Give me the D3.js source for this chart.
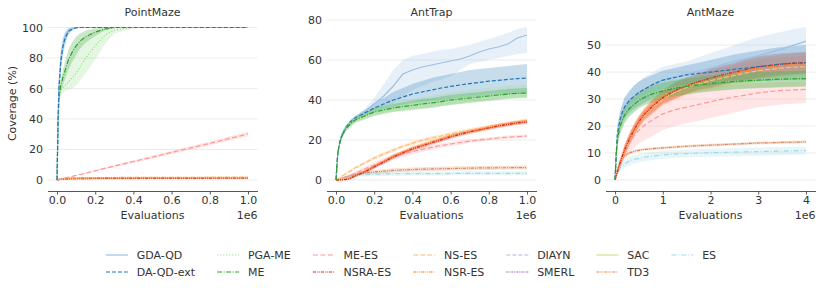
<!DOCTYPE html>
<html>
<head>
<meta charset="utf-8">
<script src="https://cdn.jsdelivr.net/npm/d3@7"></script>
<style>
body { margin: 0; background: #fff; }
text { font-family: "DejaVu Sans", sans-serif; fill: #333; }
</style>
</head>
<body>
<script>
// methods, in legend order
var methods = ["GDA-QD", "DA-QD-ext", "PGA-ME", "ME", "ME-ES", "NSRA-ES", "NS-ES", "NSR-ES", "DIAYN", "SMERL", "SAC", "TD3", "ES"];
var methodColors = ["#9fbfe3", "#1f77b4", "#98df8a", "#2ca02c", "#ff9896", "#d62728", "#ffbb78", "#ff7f0e", "#c5b0d5", "#9467bd", "#dbdb8d", "#e0844f", "#9edae5"];
var methodDashes = ["none", "4,2", "1.2,1.8", "5,1.5,1,1.5", "5,2.5", "3,1,1,1,1,1", "5,2", "3,1,1,1,1,1", "4,2", "2,1,1,1", "none", "3,1,1,1,1,1", "5,2,1,2"];

// ---- PointMaze (x in 1e6 evaluations) ----
var pmX = [0, 0.005, 0.01, 0.02, 0.03, 0.04, 0.05, 0.06, 0.08, 0.1, 0.12, 0.15, 0.2, 0.25, 0.3, 0.4, 0.5, 0.6, 0.7, 0.8, 0.9, 1.0];
var pmGda = [0, 40, 62, 80, 88, 93, 96, 98, 99.5, 100, 100, 100, 100, 100, 100, 100, 100, 100, 100, 100, 100, 100];
var pmGdaLo = [0, 34, 55, 73, 82, 88, 92, 95.5, 98.5, 99.6, 100, 100, 100, 100, 100, 100, 100, 100, 100, 100, 100, 100];
var pmGdaHi = [0, 46, 69, 86, 93, 96.5, 98.5, 99.5, 100, 100, 100, 100, 100, 100, 100, 100, 100, 100, 100, 100, 100, 100];
var pmDaqd = [0, 38, 60, 78, 87, 92, 95, 97.5, 99, 99.8, 100, 100, 100, 100, 100, 100, 100, 100, 100, 100, 100, 100];
var pmDaqdSpread = [0, 5, 6, 6, 5, 4, 3, 2, 1, 0.3, 0, 0, 0, 0, 0, 0, 0, 0, 0, 0, 0, 0];
var pmPga = [0, 32, 52, 58, 60.5, 62, 63, 64.5, 67, 70, 74, 80, 88, 95, 98.5, 100, 100, 100, 100, 100, 100, 100];
var pmPgaLo = [0, 28, 48, 55, 57, 58, 58.5, 59, 60, 62, 65, 70, 79, 89, 96, 99.5, 100, 100, 100, 100, 100, 100];
var pmPgaHi = [0, 36, 56, 62, 66, 70, 74, 78, 84, 88.5, 91, 94, 97, 99.5, 100, 100, 100, 100, 100, 100, 100, 100];
var pmMe = [0, 35, 55, 62, 67, 71, 75, 79, 84, 88, 91, 94, 97, 99, 100, 100, 100, 100, 100, 100, 100, 100];
var pmMeSpread = [0, 4, 4, 4, 5, 5.5, 6, 6.5, 6.5, 6, 5, 4, 2.5, 1, 0.3, 0, 0, 0, 0, 0, 0, 0];
var pmMees = [0, 0.2, 0.3, 0.6, 0.9, 1.2, 1.5, 1.8, 2.4, 3, 3.6, 4.5, 6, 7.6, 9.1, 12.1, 15, 18.1, 21, 24, 27.1, 30.2];
var pmMeesSpread = [0, 0, 0, 0.1, 0.1, 0.1, 0.2, 0.2, 0.2, 0.3, 0.3, 0.4, 0.5, 0.6, 0.7, 0.9, 1, 1.1, 1.2, 1.3, 1.4, 1.5];
var pmNsraes = [0, 0.1, 0.2, 0.4, 0.5, 0.6, 0.7, 0.7, 0.8, 0.8, 0.9, 0.9, 1, 1, 1, 1, 1.1, 1.1, 1.1, 1.1, 1.2, 1.2];
var pmNses = [0, 0.3, 0.5, 0.8, 1, 1.1, 1.2, 1.3, 1.4, 1.4, 1.5, 1.5, 1.6, 1.6, 1.6, 1.7, 1.7, 1.7, 1.7, 1.8, 1.8, 1.8];
var pmNsres = [0, 0.2, 0.4, 0.6, 0.8, 0.9, 1, 1, 1.1, 1.1, 1.2, 1.2, 1.2, 1.3, 1.3, 1.3, 1.3, 1.4, 1.4, 1.4, 1.4, 1.4];
var pmLowSpread = [0, 0.1, 0.2, 0.3, 0.4, 0.4, 0.5, 0.5, 0.5, 0.5, 0.5, 0.5, 0.5, 0.5, 0.5, 0.5, 0.5, 0.5, 0.5, 0.5, 0.5, 0.5];

// ---- AntTrap ----
var atX = [0, 0.005, 0.01, 0.02, 0.03, 0.05, 0.075, 0.1, 0.15, 0.2, 0.25, 0.3, 0.35, 0.4, 0.45, 0.5, 0.55, 0.6, 0.65, 0.7, 0.75, 0.8, 0.85, 0.9, 0.95, 1.0];
var atGda = [0, 8, 14, 19, 22, 26, 29, 31, 34, 38, 42, 47, 53, 55, 56.5, 57.5, 58.5, 59.5, 60.5, 62, 64, 65.5, 66.5, 68, 71, 72.5];
var atGdaLo = [0, 7, 13, 18, 21, 25, 28, 30, 32.5, 35, 37, 38, 42, 45, 47, 49, 50, 52, 55, 58, 59, 60, 61, 62, 63, 63.5];
var atGdaHi = [0, 9, 15, 20, 23, 27, 30, 32, 35.5, 41, 48, 55, 60, 62, 63, 64, 65, 65.5, 66.5, 67.5, 69, 70.5, 72, 73.5, 75.5, 76.5];
var atDaqd = [0, 8, 14, 19, 22, 26, 29, 31, 33.5, 36, 38, 40, 41.5, 43, 44, 45, 46, 46.8, 47.5, 48.2, 48.8, 49.4, 49.8, 50.3, 50.7, 51];
var atDaqdLo = [0, 7, 13, 18, 21, 25, 28, 30, 32, 34, 35.5, 36.5, 37.5, 38.5, 39, 39.5, 40, 40.5, 41, 41.5, 42, 42.5, 42.8, 43, 43.2, 43.5];
var atDaqdHi = [0, 9, 15, 20, 23, 27, 30, 32, 35, 38.5, 41, 44, 46, 48, 49.5, 51, 52, 53, 54, 55, 55.5, 56, 56.5, 57, 57.5, 58];
var atPga = [0, 8, 14, 19, 22.5, 26, 28.5, 30.5, 32.5, 34.5, 35.5, 36.5, 37.3, 38, 38.7, 39.3, 40, 40.7, 41.3, 42, 42.5, 43, 43.5, 44, 44.3, 44.6];
var atPgaSpread = [0, 1, 1, 1.5, 1.5, 1.5, 1.5, 1.5, 1.8, 2, 2, 2.2, 2.4, 2.5, 2.7, 2.8, 2.9, 3, 3, 3, 3, 3, 3, 3, 3, 3];
var atMe = [0, 8, 14, 19, 22, 25.5, 28, 30, 32, 34, 35, 36, 36.7, 37.3, 38, 38.5, 39.2, 40, 40.5, 41, 41.5, 42, 42.5, 43, 43.3, 43.5];
var atMeSpread = [0, 1, 1, 1.5, 1.5, 1.5, 1.5, 1.5, 1.8, 2, 2, 2, 2.2, 2.3, 2.5, 2.5, 2.5, 2.5, 2.5, 2.5, 2.5, 2.5, 2.5, 2.5, 2.5, 2.5];
var atMees = [0, 0, 0.1, 0.3, 0.6, 1.2, 2.2, 3.3, 5.5, 7.5, 9.5, 11.5, 13, 14.2, 15.3, 16.3, 17.2, 18, 18.7, 19.4, 20, 20.5, 21, 21.4, 21.7, 22];
var atMeesSpread = [0, 0, 0.1, 0.2, 0.3, 0.5, 0.7, 0.9, 1.2, 1.4, 1.5, 1.5, 1.5, 1.4, 1.3, 1.2, 1.1, 1, 1, 0.9, 0.9, 0.8, 0.8, 0.8, 0.8, 0.8];
var atNsraes = [0, 0, 0, 0, 0, 0.2, 0.8, 2, 4, 6.5, 9, 11.5, 13.5, 15.5, 17, 18.5, 20, 21.5, 22.8, 24, 25, 26, 27, 27.8, 28.5, 29];
var atNses = [0, 0.2, 0.5, 1, 1.8, 3, 4.5, 6, 8.5, 11, 13, 15, 16.8, 18.4, 19.8, 21, 22, 23, 24, 25, 25.8, 26.6, 27.4, 28.2, 29, 29.8];
var atNsres = [0, 0, 0, 0, 0, 0.3, 1, 2.2, 4.2, 6.8, 9.2, 11.8, 14, 16, 17.5, 19, 20.5, 22, 23.2, 24.3, 25.3, 26.3, 27.2, 28, 28.8, 29.5];
var atEsSpread = [0, 0, 0.2, 0.3, 0.4, 0.5, 0.6, 0.7, 0.8, 0.9, 1, 1, 1, 1, 1, 1, 1, 1, 1, 1, 1, 1, 1, 1, 1, 1];
var atTd3 = [0, 0, 0.2, 0.5, 1, 1.5, 2.2, 2.8, 3.5, 4, 4.4, 4.8, 5, 5.2, 5.4, 5.5, 5.6, 5.7, 5.8, 5.9, 6, 6, 6.1, 6.1, 6.2, 6.2];
var atEs = [0, 0, 0.2, 0.5, 0.8, 1.2, 1.7, 2.2, 2.6, 2.9, 3, 3.1, 3.1, 3.2, 3.2, 3.2, 3.2, 3.2, 3.3, 3.3, 3.3, 3.3, 3.3, 3.3, 3.3, 3.3];

// ---- AntMaze ----
var amX = [0, 0.025, 0.05, 0.1, 0.15, 0.2, 0.3, 0.4, 0.5, 0.6, 0.8, 1.0, 1.25, 1.5, 1.75, 2.0, 2.25, 2.5, 2.75, 3.0, 3.25, 3.5, 3.75, 4.0];
var amGda = [0, 10, 17, 22, 25, 27, 29.5, 31, 32.5, 33.5, 35.5, 37, 38.2, 39.2, 40.3, 41.5, 42.8, 44, 45, 46, 47.3, 48.6, 50, 51.5];
var amGdaLo = [0, 8, 14, 19, 22, 24, 26, 27.5, 29, 30, 32, 33.5, 34.5, 35.5, 36.5, 37.5, 38.5, 39.5, 40.5, 41.5, 42.5, 43.5, 44.5, 45.5];
var amGdaHi = [0, 12, 20, 25, 28, 30.5, 33, 35, 36.5, 38, 40, 42, 43, 44, 45.5, 47, 48.5, 50, 51.5, 53, 54, 55, 56, 56.7];
var amDaqd = [0, 10, 17, 22, 25, 27, 29.5, 31, 32.5, 33.5, 35.5, 37, 38, 39, 39.5, 40, 40.5, 41, 41.5, 42, 42.5, 43, 43.3, 43.5];
var amDaqdLo = [0, 8, 14, 18.5, 21, 23, 25, 26.5, 27.5, 28.5, 30.5, 32, 33, 34, 34.5, 35, 35.5, 36, 36.3, 36.6, 36.8, 37, 37, 37];
var amDaqdHi = [0, 12, 20, 25, 28, 30.5, 33, 35, 36.5, 37.5, 39, 40.5, 41.5, 42.5, 43.5, 44.5, 45.5, 46.5, 47.3, 48, 48.7, 49.3, 49.7, 50];
var amPga = [0, 9, 15.5, 20, 22.5, 24.5, 27, 28.5, 30, 31, 32.5, 33.5, 34.3, 35, 35.6, 36, 36.4, 36.7, 37, 37.2, 37.4, 37.6, 37.8, 38];
var amMe = [0, 9, 15, 19.5, 22, 24, 26.5, 28, 29.5, 30.5, 32, 33, 34, 34.7, 35.3, 35.8, 36.2, 36.5, 36.8, 37, 37.2, 37.4, 37.5, 37.6];
var amMeSpread = [0, 2, 3, 3, 3, 3, 3, 3, 3, 3, 3, 3, 3, 3, 3, 3, 3, 3, 3, 3, 3, 3, 3, 3];
var amMees = [0, 1.5, 3, 5.5, 8, 10, 13.5, 16.5, 18.5, 20, 22.5, 24.5, 26, 27, 28, 29, 30, 30.8, 31.5, 32.3, 32.8, 33.2, 33.4, 33.6];
var amMeesLo = [0, 1, 2, 4, 6, 7.5, 10, 12, 13.5, 14.5, 16.5, 18.5, 20, 21, 22, 23, 24, 25, 26, 27, 27.5, 28, 28.3, 28.5];
var amMeesHi = [0, 2, 4, 7, 10, 12.5, 17, 21, 23.5, 25.5, 28.5, 31, 32.5, 33.5, 34, 34.5, 35, 35.3, 35.6, 36, 36.2, 36.4, 36.5, 36.5];
var amNsraes = [0, 1.5, 3, 6, 8.5, 11, 15, 18.5, 21.5, 24, 27.5, 30.5, 33, 35, 36.5, 37.8, 39, 40, 41, 42, 42.5, 43, 43.3, 43.5];
var amNses = [0, 1.5, 2.8, 5.5, 8, 10.5, 14.5, 18, 21, 23.5, 27, 30, 32.5, 34.3, 35.6, 36.8, 37.8, 38.8, 39.7, 40.5, 41, 41.5, 41.8, 42];
var amNsres = [0, 1.5, 3, 6, 8.8, 11.3, 15.5, 19, 22, 24.5, 28, 31, 33.3, 35, 36.3, 37.5, 38.5, 39.5, 40.5, 41.5, 42, 42.5, 43, 43.2];
var amNsSpread = [0, 0.5, 1, 1.5, 1.5, 2, 2, 2, 2, 2, 2.5, 2.5, 3, 3, 3, 3.5, 3.5, 3.5, 4, 4, 4, 4, 4, 4];
var amTd3 = [0, 2, 4, 6.5, 8, 9, 10, 10.7, 11, 11.3, 11.6, 11.9, 12.2, 12.5, 12.7, 12.9, 13.1, 13.3, 13.5, 13.7, 13.8, 13.9, 14, 14.1];
var amTd3Spread = [0, 0.3, 0.5, 0.5, 0.5, 0.5, 0.5, 0.5, 0.5, 0.5, 0.5, 0.5, 0.5, 0.5, 0.5, 0.5, 0.5, 0.5, 0.5, 0.5, 0.5, 0.5, 0.5, 0.5];
var amEs = [0, 1.5, 3, 4.5, 5.5, 6, 7, 7.6, 8, 8.4, 8.9, 9.3, 9.6, 9.8, 10, 10.1, 10.2, 10.3, 10.4, 10.5, 10.6, 10.7, 10.8, 10.9];
var amEsSpread = [0, 0.5, 1, 1.5, 1.5, 1.5, 1.5, 1.5, 1.5, 1.5, 1.5, 1.5, 1.5, 1.5, 1.5, 1.5, 1.5, 1.5, 1.5, 1.5, 1.5, 1.5, 1.5, 1.5];

var pmTicks = [0, 0.2, 0.4, 0.6, 0.8, 1.0];
var atTicks = [0, 0.2, 0.4, 0.6, 0.8, 1.0];
var amTicks = [0, 1, 2, 3, 4];
var pmYTicks = [0, 20, 40, 60, 80, 100];
var atYTicks = [0, 20, 40, 60, 80];
var amYTicks = [0, 10, 20, 30, 40, 50];

// helpers to build series from the arrays above
function band(name, mean, lo, hi) {
    return { m: methods.indexOf(name), mean: mean, lo: lo, hi: hi };
}
function spread(name, mean, s) {
    return band(name, mean,
        mean.map(function(v, i) { return Math.max(0, v - s[i]); }),
        mean.map(function(v, i) { return v + s[i]; }));
}

var panels = [
    { title: "PointMaze", x: pmX, xTicks: pmTicks, yTicks: pmYTicks, fmt: d3.format(".1f"), series: [
        spread("NSRA-ES", pmNsraes, pmLowSpread),
        spread("NS-ES", pmNses, pmLowSpread),
        spread("NSR-ES", pmNsres, pmLowSpread),
        spread("ME-ES", pmMees, pmMeesSpread),
        band("PGA-ME", pmPga, pmPgaLo, pmPgaHi),
        spread("ME", pmMe, pmMeSpread),
        band("GDA-QD", pmGda, pmGdaLo, pmGdaHi),
        spread("DA-QD-ext", pmDaqd, pmDaqdSpread)
    ] },
    { title: "AntTrap", x: atX, xTicks: atTicks, yTicks: atYTicks, fmt: d3.format(".1f"), series: [
        spread("ES", atEs, atEsSpread),
        spread("TD3", atTd3, atEsSpread),
        spread("ME-ES", atMees, atMeesSpread),
        spread("NS-ES", atNses, atEsSpread),
        spread("NSR-ES", atNsres, atEsSpread),
        spread("NSRA-ES", atNsraes, atEsSpread),
        band("GDA-QD", atGda, atGdaLo, atGdaHi),
        band("DA-QD-ext", atDaqd, atDaqdLo, atDaqdHi),
        spread("PGA-ME", atPga, atPgaSpread),
        spread("ME", atMe, atMeSpread)
    ] },
    { title: "AntMaze", x: amX, xTicks: amTicks, yTicks: amYTicks, fmt: d3.format("d"), series: [
        spread("ES", amEs, amEsSpread),
        spread("TD3", amTd3, amTd3Spread),
        band("ME-ES", amMees, amMeesLo, amMeesHi),
        spread("NS-ES", amNses, amNsSpread),
        spread("NSR-ES", amNsres, amNsSpread),
        spread("NSRA-ES", amNsraes, amNsSpread),
        band("GDA-QD", amGda, amGdaLo, amGdaHi),
        band("DA-QD-ext", amDaqd, amDaqdLo, amDaqdHi),
        spread("PGA-ME", amPga, amMeSpread),
        spread("ME", amMe, amMeSpread)
    ] }
];

var width = 822;
var height = 288;
var panelLeft = 47.5;
var panelStep = 279;
var panelW = 210;
var plotTop = 19.4;
var plotBottom = 187.6;
var axisY = 191;

var svg = d3.select("body").append("svg")
    .attr("width", width)
    .attr("height", height);

panels.forEach(function(p, pi) {
    var left = panelLeft + pi * panelStep;
    var right = left + panelW;
    var xmax = d3.max(p.x);
    var x = d3.scaleLinear()
        .domain([-0.05 * xmax, 1.05 * xmax])
        .range([left, right]);
    var ymin = d3.min(p.series, function(s) { return d3.min(s.lo); });
    var ymax = d3.max(p.series, function(s) { return d3.max(s.hi); });
    var pad = 0.05 * (ymax - ymin);
    var y = d3.scaleLinear()
        .domain([ymin - pad, ymax + pad])
        .range([plotBottom, plotTop]);

    var g = svg.append("g");

    // gridlines
    g.selectAll("line.grid")
        .data(p.yTicks)
        .enter()
        .append("line")
        .attr("x1", left)
        .attr("x2", right)
        .attr("y1", function(d) { return y(d); })
        .attr("y2", function(d) { return y(d); })
        .attr("stroke", "#e9e9e9")
        .attr("stroke-width", 0.9);

    // y tick labels
    var yAxis = g.append("g")
        .attr("transform", "translate(" + left + ",0)")
        .call(d3.axisLeft(y).tickValues(p.yTicks).tickSize(0).tickPadding(4.5));
    yAxis.select(".domain").remove();
    yAxis.selectAll("text").attr("font-size", "11px").attr("fill", "#333")
        .style("font-family", "DejaVu Sans, sans-serif");

    // x axis
    var xAxis = g.append("g")
        .attr("transform", "translate(0," + axisY + ")")
        .call(d3.axisBottom(x).tickValues(p.xTicks).tickFormat(p.fmt)
            .tickSize(3.5).tickSizeOuter(0).tickPadding(1.5));
    xAxis.select(".domain").attr("stroke", "#444").attr("stroke-width", 0.9);
    xAxis.selectAll(".tick line").attr("stroke", "#444").attr("stroke-width", 0.9);
    xAxis.selectAll("text").attr("font-size", "11px").attr("fill", "#333")
        .style("font-family", "DejaVu Sans, sans-serif");

    var area = d3.area()
        .x(function(d) { return x(d.x); })
        .y0(function(d) { return y(d.lo); })
        .y1(function(d) { return y(d.hi); });
    var line = d3.line()
        .x(function(d) { return x(d.x); })
        .y(function(d) { return y(d.v); });

    function rows(s) {
        return p.x.map(function(xv, i) {
            return { x: xv, v: s.mean[i], lo: s.lo[i], hi: s.hi[i] };
        });
    }

    // bands
    g.selectAll("path.band")
        .data(p.series)
        .enter()
        .append("path")
        .attr("class", "band")
        .attr("d", function(s) { return area(rows(s)); })
        .attr("fill", function(s) { return methodColors[s.m]; })
        .attr("fill-opacity", 0.25)
        .attr("stroke", "none");

    // mean lines
    g.selectAll("path.mean")
        .data(p.series)
        .enter()
        .append("path")
        .attr("class", "mean")
        .attr("d", function(s) { return line(rows(s)); })
        .attr("fill", "none")
        .attr("stroke", function(s) { return methodColors[s.m]; })
        .attr("stroke-width", 1.2)
        .attr("stroke-dasharray", function(s) { return methodDashes[s.m]; });

    // title
    g.append("text")
        .attr("x", (left + right) / 2)
        .attr("y", 16)
        .attr("text-anchor", "middle")
        .attr("font-size", "11px")
        .text(p.title);

    // x label and offset text
    g.append("text")
        .attr("x", (left + right) / 2)
        .attr("y", 218.5)
        .attr("text-anchor", "middle")
        .attr("font-size", "11px")
        .text("Evaluations");
    g.append("text")
        .attr("x", right)
        .attr("y", 218.5)
        .attr("text-anchor", "end")
        .attr("font-size", "11px")
        .text("1e6");
});

// y label
svg.append("text")
    .attr("transform", "translate(16," + ((plotTop + plotBottom) / 2) + ") rotate(-90)")
    .attr("text-anchor", "middle")
    .attr("font-size", "11px")
    .text("Coverage (%)");

// legend: 2 rows, column-major, matplotlib-like spacing
var handleLen = 22, handlePad = 8.8, colSpace = 22;
var legendRows = [255, 272];
var legend = svg.append("g");
var cols = d3.range(Math.ceil(methods.length / 2));
var colX = [];
var cx = 0;
cols.forEach(function(c) {
    colX.push(cx);
    var w = 0;
    [2 * c, 2 * c + 1].forEach(function(i) {
        if (i >= methods.length) return;
        var t = legend.append("text").attr("font-size", "11px").text(methods[i]);
        w = Math.max(w, t.node().getComputedTextLength());
        t.remove();
    });
    cx += handleLen + handlePad + w + colSpace;
});
var legendW = cx - colSpace;
var legendLeft = (width - legendW) / 2;

methods.forEach(function(name, i) {
    var c = Math.floor(i / 2);
    var ly = legendRows[i % 2];
    var lx = legendLeft + colX[c];
    legend.append("line")
        .attr("x1", lx)
        .attr("x2", lx + handleLen)
        .attr("y1", ly)
        .attr("y2", ly)
        .attr("stroke", methodColors[i])
        .attr("stroke-width", 1.2)
        .attr("stroke-dasharray", methodDashes[i]);
    legend.append("text")
        .attr("x", lx + handleLen + handlePad)
        .attr("y", ly)
        .attr("dy", "0.35em")
        .attr("font-size", "11px")
        .text(name);
});
</script>
</body>
</html>
